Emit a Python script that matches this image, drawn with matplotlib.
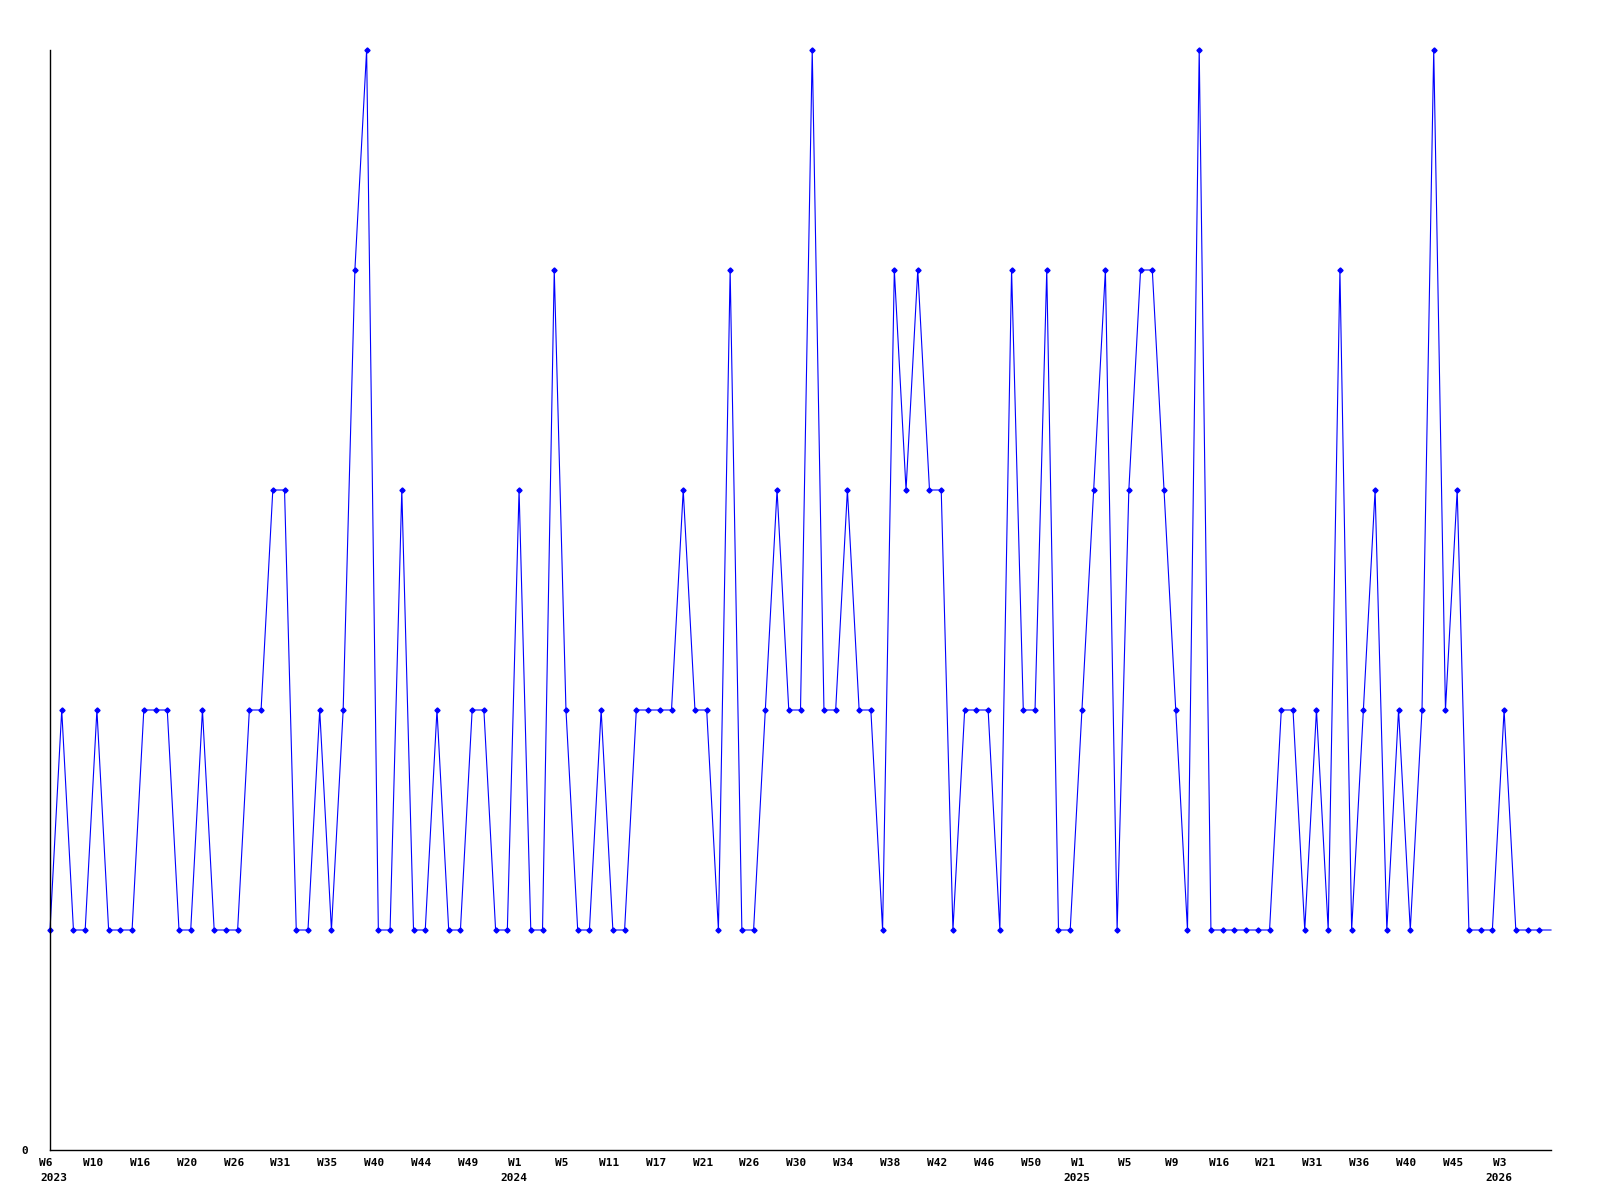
import matplotlib
matplotlib.use("Agg")
import matplotlib.pyplot as plt
import matplotlib.transforms as mtransforms

# weekly values, one per point (last one only carries the line to the edge)
values = [1, 2, 1, 1, 2, 1, 1, 1, 2, 2, 2, 1, 1, 2, 1, 1, 1, 2, 2, 3,
          3, 1, 1, 2, 1, 2, 4, 5, 1, 1, 3, 1, 1, 2, 1, 1, 2, 2, 1, 1,
          3, 1, 1, 4, 2, 1, 1, 2, 1, 1, 2, 2, 2, 2, 3, 2, 2, 1, 4, 1,
          1, 2, 3, 2, 2, 5, 2, 2, 3, 2, 2, 1, 4, 3, 4, 3, 3, 1, 2, 2,
          2, 1, 4, 2, 2, 4, 1, 1, 2, 3, 4, 1, 3, 4, 4, 3, 2, 1, 5, 1,
          1, 1, 1, 1, 1, 2, 2, 1, 2, 1, 4, 1, 2, 3, 1, 2, 1, 2, 5, 2,
          3, 1, 1, 1, 2, 1, 1, 1, 1]

week_labels = ['W6', 'W10', 'W16', 'W20', 'W26', 'W31', 'W35', 'W40', 'W44', 'W49',
               'W1', 'W5', 'W11', 'W17', 'W21', 'W26', 'W30', 'W34', 'W38', 'W42',
               'W46', 'W50', 'W1', 'W5', 'W9', 'W16', 'W21', 'W31', 'W36', 'W40',
               'W45', 'W3']
year_labels = {0: '2023', 10: '2024', 22: '2025', 31: '2026'}
label_step = 4

font = {'family': 'DejaVu Sans Mono', 'weight': 'bold', 'size': 8}

fig = plt.figure(figsize=(16, 12), dpi=100)
ax = fig.add_axes([50 / 1600, 50 / 1200, 1501 / 1600, 1100 / 1200])

x = list(range(len(values)))
ax.plot(x, values, color='#0000ff', linewidth=0.8, marker='D', markersize=2.6,
        markevery=list(range(len(values) - 1)), clip_on=False)

ax.set_xlim(0, len(values) - 1)
ax.set_ylim(0, 5)

for side in ['top', 'right']:
    ax.spines[side].set_visible(False)
for side in ['left', 'bottom']:
    ax.spines[side].set_color('black')
    ax.spines[side].set_linewidth(1.0)

ticks = [i * label_step for i in range(len(week_labels))]
ax.set_xticks(ticks)
ax.set_xticklabels(week_labels, fontdict=font)
ax.tick_params(axis='x', length=0, pad=6)

# labels sit a few pixels left of their point
shift = mtransforms.ScaledTranslation(-4 / 100, 0, fig.dpi_scale_trans)
for lab in ax.get_xticklabels():
    lab.set_transform(lab.get_transform() + shift)

ax.set_yticks([0])
ax.set_yticklabels(['0'], fontdict=font)
ax.tick_params(axis='y', length=0, pad=16)

# year under the first week label of each year
for k, yr in year_labels.items():
    if k == 0:
        ax.annotate(yr, xy=(ticks[k], 0), xycoords='data', xytext=(-10, -23),
                    textcoords='offset pixels', ha='left', va='top', **font)
    else:
        ax.annotate(yr, xy=(ticks[k], 0), xycoords='data', xytext=(-5, -23),
                    textcoords='offset pixels', ha='center', va='top', **font)

fig.savefig('out.png', dpi=100)
